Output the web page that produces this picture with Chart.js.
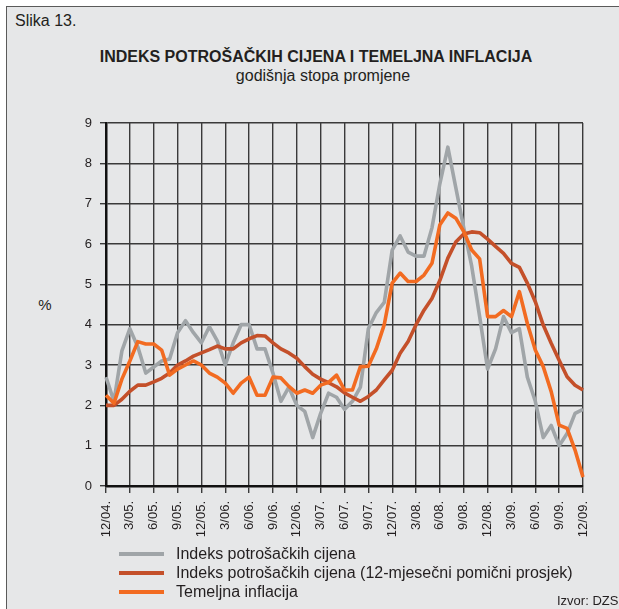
<!DOCTYPE html>
<html>
<head>
<meta charset="utf-8">
<script src="https://cdn.jsdelivr.net/npm/chart.js@4.4.1/dist/chart.umd.min.js"></script>
<style>
html,body{margin:0;padding:0;background:#fff;}
body{width:619px;height:609px;position:relative;overflow:hidden;font-family:'Liberation Sans',Arial,sans-serif;color:#231f20;}
#frame{position:absolute;left:6px;top:6px;width:640px;height:640px;border:1px solid #5a5a5a;background:#e6e7e8;}
#wrap{position:absolute;left:0;top:0;width:619px;height:609px;}
.t{position:absolute;white-space:nowrap;line-height:1.15;transform:translateY(-50%);}
.c{transform:translate(-50%,-50%);}
.lg{position:absolute;left:119px;width:45px;height:4px;transform:translateY(-50%);}
</style>
</head>
<body>
<div id="frame"></div>
<div class="t" style="left:15px;top:21px;font-size:16px;">Slika 13.</div>
<div class="t c" style="left:316px;top:57px;font-size:16px;font-weight:bold;">INDEKS POTROŠAČKIH CIJENA I TEMELJNA INFLACIJA</div>
<div class="t c" style="left:323px;top:76px;font-size:16px;">godišnja stopa promjene</div>
<div class="t c" style="left:45px;top:305px;font-size:15px;">%</div>
<div id="wrap"><canvas id="ch"></canvas></div>
<div class="lg" style="top:554px;background:#a0a5a8;"></div>
<div class="t" style="left:176px;top:554px;font-size:16px;">Indeks potrošačkih cijena</div>
<div class="lg" style="top:573px;background:#c4502a;"></div>
<div class="t" style="left:176px;top:573px;font-size:16px;">Indeks potrošačkih cijena (12-mjesečni pomični prosjek)</div>
<div class="lg" style="top:592px;background:#f26b21;"></div>
<div class="t" style="left:176px;top:592px;font-size:16px;">Temeljna inflacija</div>
<div class="t" style="left:557px;top:601px;font-size:13px;">Izvor: DZS</div>
<script>
const months = ["12/04.","1/05.","2/05.","3/05.","4/05.","5/05.","6/05.","7/05.","8/05.","9/05.","10/05.","11/05.",
"12/05.","1/06.","2/06.","3/06.","4/06.","5/06.","6/06.","7/06.","8/06.","9/06.","10/06.","11/06.",
"12/06.","1/07.","2/07.","3/07.","4/07.","5/07.","6/07.","7/07.","8/07.","9/07.","10/07.","11/07.",
"12/07.","1/08.","2/08.","3/08.","4/08.","5/08.","6/08.","7/08.","8/08.","9/08.","10/08.","11/08.",
"12/08.","1/09.","2/09.","3/09.","4/09.","5/09.","6/09.","7/09.","8/09.","9/09.","10/09.","11/09.","12/09."];

const cpi = [2.7,2.1,3.35,3.9,3.45,2.8,2.95,3.1,3.15,3.8,
4.1,3.8,3.55,3.95,3.6,3.0,3.55,4.0,4.0,3.4,
3.4,2.8,2.1,2.45,2.0,1.85,1.2,1.8,2.3,2.2,
1.9,2.1,2.45,3.9,4.3,4.55,5.85,6.2,5.8,5.7,
5.7,6.4,7.5,8.4,7.4,6.4,5.45,4.2,2.9,3.4,
4.2,3.8,3.9,2.7,2.1,1.2,1.5,1.0,1.3,1.8,1.9];

const cpiAvg12 = [2.0,2.0,2.15,2.35,2.5,2.5,2.58,2.67,2.8,3.0,
3.1,3.22,3.3,3.38,3.47,3.4,3.4,3.55,3.65,3.73,
3.72,3.55,3.4,3.3,3.17,2.96,2.77,2.65,2.56,2.46,
2.31,2.2,2.1,2.22,2.38,2.63,2.87,3.29,3.58,4.0,
4.36,4.65,5.1,5.65,6.05,6.25,6.3,6.28,6.12,5.94,
5.77,5.52,5.42,5.03,4.57,3.99,3.54,3.12,2.71,2.5,2.38];

const coreInfl = [2.25,2.05,2.65,3.1,3.58,3.52,3.52,3.37,2.75,2.9,
3.0,3.1,3.0,2.8,2.7,2.55,2.3,2.55,2.7,2.25,
2.25,2.7,2.68,2.47,2.3,2.38,2.3,2.5,2.57,2.75,
2.38,2.38,2.96,2.97,3.4,4.0,5.03,5.28,5.07,5.07,
5.23,5.52,6.48,6.77,6.64,6.31,5.85,5.63,4.2,4.2,
4.35,4.2,4.82,4.03,3.37,2.96,2.34,1.51,1.43,0.89,0.22];

const seriesNames = ["Indeks potrošačkih cijena","Indeks potrošačkih cijena (12-mjesečni pomični prosjek)","Temeljna inflacija"];
const yTicks = [0,1,2,3,4,5,6,7,8,9];

const FONT = "'Liberation Sans', Arial, sans-serif";
const GRID = '#3a3a3a';

new Chart(document.getElementById('ch'), {
  type: 'line',
  data: {
    labels: months,
    datasets: [
      {label: seriesNames[0], data: cpi, borderColor: '#a0a5a8', borderWidth: 3.6, order: 3},
      {label: seriesNames[1], data: cpiAvg12, borderColor: '#c4502a', borderWidth: 3.6, order: 2},
      {label: seriesNames[2], data: coreInfl, borderColor: '#f26b21', borderWidth: 3.6, order: 1}
    ]
  },
  options: {
    responsive: true,
    maintainAspectRatio: false,
    devicePixelRatio: 1,
    animation: false,
    elements: {
      point: {radius: 0, hoverRadius: 0},
      line: {tension: 0, borderJoinStyle: 'round', borderCapStyle: 'butt', fill: false}
    },
    layout: {padding: {left: 0, top: 123, right: 36, bottom: 63}},
    plugins: {legend: {display: false}, tooltip: {enabled: false}, title: {display: false}},
    scales: {
      x: {
        type: 'category',
        offset: false,
        afterFit: s => { s.height = 60; },
        grid: {
          color: c => (c.index % 3 === 0 ? GRID : 'rgba(0,0,0,0)'),
          lineWidth: 1.4,
          tickLength: 7,
          drawTicks: true
        },
        border: {color: '#111', width: 2.5},
        ticks: {
          autoSkip: false,
          maxRotation: 90,
          minRotation: 90,
          padding: 8,
          color: '#231f20',
          font: {family: FONT, size: 13},
          callback: function (v, i) { return i % 3 === 0 ? this.getLabelForValue(v) : ''; }
        }
      },
      y: {
        min: yTicks[0],
        max: yTicks[yTicks.length - 1],
        afterFit: s => { s.width = 106; },
        afterBuildTicks: s => { s.ticks = yTicks.map(v => ({value: v})); },
        grid: {color: GRID, lineWidth: 1.4, tickLength: 6},
        border: {color: '#111', width: 2.5},
        ticks: {
          stepSize: 1,
          padding: 8,
          color: '#231f20',
          font: {family: FONT, size: 13}
        }
      }
    }
  }
});
</script>
</body>
</html>
